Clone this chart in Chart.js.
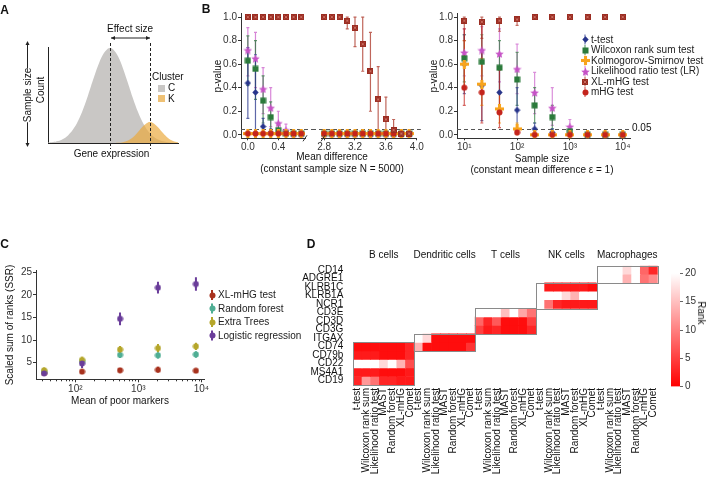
<!DOCTYPE html>
<html>
<head>
<meta charset="utf-8">
<script src="https://cdn.jsdelivr.net/npm/chart.js@4.4.1/dist/chart.umd.min.js"></script>
<style>
  body { margin: 0; background: #fff; }
  #fig { position: relative; width: 709px; height: 477px; overflow: hidden;
         font-family: 'Liberation Sans', Arial, Helvetica, sans-serif; color: #111; }
  #fig canvas { position: absolute; }
  .t { position: absolute; font-size: 10px; line-height: 1; white-space: nowrap; }
</style>
</head>
<body>
<div id="fig"></div>
<script>
// ---------- panel A: the two expression distributions ----------
const exprC = [0, 0.5, 1, 1.5, 2, 2.5, 3, 3.5, 4, 4.5, 5, 5.5, 6, 6.2, 6.5, 7, 7.5, 8, 8.5, 9, 9.5, 10, 10.5, 11, 11.5, 12, 12.5, 13];
const countC = [0.004, 0.010, 0.021, 0.043, 0.080, 0.141, 0.231, 0.353, 0.501, 0.662, 0.814, 0.932, 0.994, 1.000, 0.987, 0.913, 0.785, 0.629, 0.469, 0.326, 0.211, 0.127, 0.071, 0.037, 0.018, 0.008, 0.003, 0.001];
const exprK = [6.5, 7, 7.5, 8, 8.5, 9, 9.5, 10, 10.2, 10.5, 11, 11.5, 12, 12.5, 13];
const countK = [0.000, 0.002, 0.009, 0.026, 0.061, 0.116, 0.177, 0.216, 0.220, 0.211, 0.165, 0.104, 0.052, 0.021, 0.007];

// ---------- panel B: p-value vs mean difference (N = 5000) ----------
const meanDiff = [0, 0.1, 0.2, 0.3, 0.4, 0.5, 0.6, 0.7, 2.8, 2.9, 3.0, 3.1, 3.2, 3.3, 3.4, 3.5, 3.6, 3.7, 3.8, 3.9];
const mdTtest   = [0.44, 0.36, 0.07, 0.02, 0.01, 0.01, 0.01, 0.01, 0.01, 0.01, 0.01, 0.01, 0.01, 0.01, 0.01, 0.01, 0.01, 0.01, 0.01, 0.01];
const mdTtestLo = [0.14, 0.00, 0.02, 0.00];
const mdTtestHi = [0.74, 0.68, 0.14, 0.05];
const mdWilcox   = [0.63, 0.56, 0.29, 0.15, 0.04, 0.01, 0.01, 0.01, 0.01, 0.01, 0.01, 0.01, 0.01, 0.01, 0.01, 0.01, 0.01, 0.01, 0.01, 0.01];
const mdWilcoxLo = [0.42, 0.30, 0.10, 0.04, 0.00];
const mdWilcoxHi = [0.84, 0.80, 0.50, 0.28, 0.10];
const mdKS = [0.01, 0.01, 0.01, 0.01, 0.01, 0.01, 0.01, 0.01, 0.01, 0.01, 0.01, 0.01, 0.01, 0.01, 0.01, 0.01, 0.01, 0.01, 0.01, 0.01];
const mdLR   = [0.72, 0.65, 0.39, 0.23, 0.10, 0.04, 0.01, 0.01, 0.01, 0.01, 0.01, 0.01, 0.01, 0.01, 0.01, 0.01, 0.01, 0.01, 0.01, 0.01];
const mdLRLo = [0.50, 0.40, 0.18, 0.07, 0.02, 0.00];
const mdLRHi = [0.91, 0.87, 0.57, 0.40, 0.20, 0.09];
const mdXL   = [1, 1, 1, 1, 1, 1, 1, 1, 1, 1, 1, 0.97, 0.91, 0.77, 0.54, 0.30, 0.13, 0.04, 0.01, 0.01];
const mdXLLo = [null, null, null, null, null, null, null, null, null, null, null, 0.90, 0.75, 0.54, 0.20, 0.00, 0.00, 0.00];
const mdXLHi = [null, null, null, null, null, null, null, null, null, null, null, 1.00, 1.00, 1.00, 0.87, 0.58, 0.32, 0.13];
const mdMHG = [0.01, 0.01, 0.01, 0.01, 0.01, 0.01, 0.01, 0.01, 0.01, 0.01, 0.01, 0.01, 0.01, 0.01, 0.01, 0.01, 0.01, 0.01, 0.01, 0.01];

// ---------- panel B: p-value vs sample size (mean difference 1) ----------
const sampleSize = [10, 21.5, 46.4, 100, 215, 464, 1000, 2154, 4642, 10000];
const ssTtest   = [0.60, 0.42, 0.36, 0.21, 0.05, 0.02, 0.00, 0.00, 0.00, 0.00];
const ssTtestLo = [0.35, 0.12, 0.18, 0.05, 0.00, 0.00];
const ssTtestHi = [0.85, 0.72, 0.56, 0.40, 0.10, 0.05];
const ssWilcox   = [0.65, 0.62, 0.57, 0.47, 0.25, 0.15, 0.03, 0.00, 0.00, 0.00];
const ssWilcoxLo = [0.45, 0.40, 0.35, 0.25, 0.10, 0.05, 0.00];
const ssWilcoxHi = [0.85, 0.85, 0.80, 0.70, 0.40, 0.25, 0.07];
const ssKS   = [0.60, 0.43, 0.22, 0.05, 0.00, 0.00, 0.00, 0.00, 0.00, 0.00];
const ssKSLo = [0.40, 0.25, 0.10, 0.00];
const ssKSHi = [0.80, 0.65, 0.35, 0.10];
const ssLR   = [0.70, 0.72, 0.69, 0.56, 0.36, 0.23, 0.07, 0.00, 0.00, 0.00];
const ssLRLo = [0.50, 0.50, 0.45, 0.35, 0.18, 0.08, 0.03];
const ssLRHi = [0.90, 0.92, 0.90, 0.77, 0.53, 0.40, 0.13];
const ssXL   = [0.97, 0.96, 0.97, 0.98, 1.00, 1.00, 1.00, 1.00, 1.00, 1.00];
const ssXLLo = [0.80, 0.82, 0.88, 0.93];
const ssXLHi = [1.00, 1.00, 1.00, 1.00];
const ssMHG   = [0.40, 0.36, 0.19, 0.02, 0.00, 0.00, 0.00, 0.00, 0.00, 0.00];
const ssMHGLo = [0.25, 0.10, 0.06, 0.00];
const ssMHGHi = [0.90, 0.95, 0.55, 0.05];
const pValueTicks = [0, 0.2, 0.4, 0.6, 0.8, 1.0];
const pCutoff = 0.05;

// ---------- panel C: scaled sum of ranks ----------
const poorMean = [32, 128, 512, 2048, 8192];
const ssrXL    = [2.7, 3.0, 3.3, 3.4, 3.2];
const ssrXLErr = [0.4, 0.4, 0.5, 0.6, 0.4];
const ssrRF    = [3.0, 5.3, 6.7, 6.6, 6.8];
const ssrRFErr = [0.5, 0.6, 0.7, 0.7, 0.7];
const ssrET    = [3.3, 5.6, 7.9, 8.2, 8.6];
const ssrETErr = [0.6, 0.6, 0.8, 0.9, 0.8];
const ssrLR    = [2.6, 4.8, 14.7, 21.6, 22.4];
const ssrLRErr = [0.4, 1.0, 1.4, 1.3, 1.5];
const ssrTicks = [5, 10, 15, 20, 25];

// ---------- panel D: rank heatmap ----------
const methods = ['t-test', 'Wilcoxon rank sum', 'Likelihood ratio test', 'MAST', 'Random forest', 'XL-mHG', 'Comet'];
const cellTypes = ['B cells', 'Dendritic cells', 'T cells', 'NK cells', 'Macrophages'];
const genes = ['CD14', 'ADGRE1', 'KLRB1C', 'KLRB1A', 'NCR1', 'CD3E', 'CD3D', 'CD3G', 'ITGAX', 'CD74', 'CD79b', 'CD22', 'MS4A1', 'CD19'];
const bCellGenes = ['CD74', 'CD79b', 'CD22', 'MS4A1', 'CD19'];
const bCellRanks = [[1, 1, 1, 1, 1, 1, 3], [2, 2, 2, 1, 1, 1, 3], [20, 20, 20, 17, 20, 14, 6], [2, 2, 2, 1, 1, 1, 2], [3, 12, 9, 3, 3, 2, 2]];
const dcGenes = ['ITGAX', 'CD74'];
const dcRanks = [[20, 17, 1, 1, 1, 1, 1], [14, 1, 1, 1, 1, 1, 4]];
const tCellGenes = ['CD3E', 'CD3D', 'CD3G'];
const tCellRanks = [[20, 20, 20, 15, 20, 13, 9], [8, 3, 7, 1, 1, 1, 5], [5, 2, 3, 1, 1, 1, 3]];
const nkGenes = ['KLRB1C', 'KLRB1A', 'NCR1'];
const nkRanks = [[20, 2, 2, 2, 2, 2, 1], [20, 20, 20, 17, 14, 20, 20], [20, 9, 3, 2, 2, 2, 2]];
const macGenes = ['CD14', 'ADGRE1'];
const macRanks = [[20, 20, 20, 17, 20, 8, 3], [20, 20, 20, 14, 20, 9, 11]];
const rankTicks = [0, 5, 10, 15, 20];

// ---------- setup ----------
Chart.defaults.font.family = "'Liberation Sans', Arial, Helvetica, sans-serif";
Chart.defaults.font.size = 10;
Chart.defaults.color = '#333';
Chart.defaults.animation = false;
Chart.defaults.responsive = false;
Chart.defaults.plugins.legend.display = false;
Chart.defaults.plugins.tooltip.enabled = false;

const fig = document.getElementById('fig');
const axisColor = '#333';

function addCanvas(left, top, w, h) {
    const c = document.createElement('canvas');
    c.width = w; c.height = h;
    c.style.left = left + 'px'; c.style.top = top + 'px';
    c.style.width = w + 'px'; c.style.height = h + 'px';
    fig.appendChild(c);
    return c;
}

// text centred on (x, y) unless align is 'left'
function addText(str, x, y, opts = {}) {
    const d = document.createElement('div');
    d.className = 't';
    d.textContent = str;
    d.style.left = x + 'px';
    d.style.top = y + 'px';
    if (opts.size) d.style.fontSize = opts.size + 'px';
    if (opts.bold) d.style.fontWeight = 'bold';
    if (opts.bg) { d.style.background = opts.bg; d.style.padding = '2px 0'; }
    const tx = opts.align === 'left' ? '0' : '-50%';
    d.style.transform = `translate(${tx},-50%)` + (opts.rot ? ` rotate(${opts.rot}deg)` : '');
    fig.appendChild(d);
    return d;
}

function pts(xs, ys) {
    return xs.map((x, i) => ({ x: x, y: ys[i] }));
}

function makeMarker(shape, fill, size, accent) {
    const c = document.createElement('canvas');
    c.width = c.height = size;
    const g = c.getContext('2d');
    const h = size / 2;
    g.fillStyle = fill;
    g.beginPath();
    if (shape === 'circle') {
        g.arc(h, h, h - 0.5, 0, Math.PI * 2); g.fill();
    } else if (shape === 'diamond') {
        g.moveTo(h, 0.3); g.lineTo(size - 0.3, h); g.lineTo(h, size - 0.3); g.lineTo(0.3, h);
        g.closePath(); g.fill();
    } else if (shape === 'square') {
        g.fillRect(0.5, 0.5, size - 1, size - 1);
    } else if (shape === 'plus') {
        const w = size * 0.34;
        g.fillRect(h - w / 2, 0, w, size); g.fillRect(0, h - w / 2, size, w);
    } else if (shape === 'star') {
        for (let i = 0; i < 10; i++) {
            const r = i % 2 ? h * 0.45 : h;
            const a = -Math.PI / 2 + i * Math.PI / 5;
            g.lineTo(h + r * Math.cos(a), h + 0.6 + r * Math.sin(a));
        }
        g.closePath(); g.fill();
    } else if (shape === 'boxx') {
        g.fillRect(0, 0, size, size);
        g.strokeStyle = accent; g.lineWidth = 1;
        g.beginPath();
        g.moveTo(1.5, 1.5); g.lineTo(size - 1.5, size - 1.5);
        g.moveTo(size - 1.5, 1.5); g.lineTo(1.5, size - 1.5);
        g.stroke();
    }
    return c;
}

const sup = { 1: '\u00b9', 2: '\u00b2', 3: '\u00b3', 4: '\u2074' };
const logLabel = v => '10' + sup[Math.round(Math.log10(v))];

// vertical error bars from dataset.errLo / errHi
const errorBars = {
    id: 'errorBars',
    beforeDatasetsDraw(chart) {
        const { ctx, chartArea: a, scales: { x, y } } = chart;
        ctx.save();
        ctx.beginPath();
        ctx.rect(a.left - 2, a.top - 8, a.right - a.left + 4, a.bottom - a.top + 16);
        ctx.clip();
        chart.data.datasets.slice().reverse().forEach(ds => {
            if (!ds.errLo) return;
            ctx.strokeStyle = ds.errColor;
            ctx.lineWidth = ds.errWidth || 1.2;
            ds.data.forEach((p, i) => {
                const lo = ds.errLo[i], hi = ds.errHi[i];
                if (lo == null || hi == null) return;
                const px = x.getPixelForValue(p.x);
                if (px < a.left - 2 || px > a.right + 2) return;
                const y0 = y.getPixelForValue(lo), y1 = y.getPixelForValue(hi);
                const c = ds.errCap || 0;
                ctx.beginPath();
                ctx.moveTo(px, y0); ctx.lineTo(px, y1);
                if (c) {
                    ctx.moveTo(px - c, y0); ctx.lineTo(px + c, y0);
                    ctx.moveTo(px - c, y1); ctx.lineTo(px + c, y1);
                }
                ctx.stroke();
            });
        });
        ctx.restore();
    }
};

function drawLegend(chart, order, x, y0, step) {
    const ctx = chart.ctx;
    ctx.save();
    ctx.font = "10px 'Liberation Sans', Arial, sans-serif";
    ctx.textBaseline = 'middle';
    order.forEach((name, i) => {
        const ds = chart.data.datasets.find(d => d.label === name);
        const y = y0 + i * step;
        ctx.strokeStyle = ds.errColor;
        ctx.lineWidth = ds.errWidth || 1.2;
        ctx.beginPath(); ctx.moveTo(x, y - 5); ctx.lineTo(x, y + 5); ctx.stroke();
        const m = ds.pointStyle;
        ctx.drawImage(m, Math.round(x - m.width / 2), Math.round(y - m.height / 2));
        ctx.fillStyle = '#222';
        ctx.fillText(name, x + 6, y + 0.5);
    });
    ctx.restore();
}

// ---------- panel A ----------
const colC = '#c9c7c5', colK = 'rgba(234,168,58,0.68)';
const panelAExtras = {
    id: 'panelAExtras',
    afterDraw(chart) {
        const { ctx, chartArea: a, scales: { x } } = chart;
        const peakC = exprC[countC.indexOf(Math.max(...countC))];
        const peakK = exprK[countK.indexOf(Math.max(...countK))];
        const xc = x.getPixelForValue(peakC), xk = x.getPixelForValue(peakK);
        ctx.save();
        ctx.strokeStyle = '#222'; ctx.fillStyle = '#222'; ctx.lineWidth = 1;
        ctx.setLineDash([3, 2]);
        [xc, xk].forEach(px => {
            ctx.beginPath(); ctx.moveTo(px + 0.5, a.top - 4); ctx.lineTo(px + 0.5, a.bottom + 6); ctx.stroke();
        });
        ctx.setLineDash([]);
        const head = (px, py, dx, dy) => {
            ctx.beginPath();
            ctx.moveTo(px, py);
            ctx.lineTo(px - dx * 4 - dy * 2, py - dy * 4 - dx * 2);
            ctx.lineTo(px - dx * 4 + dy * 2, py - dy * 4 + dx * 2);
            ctx.closePath(); ctx.fill();
        };
        // effect size arrow
        const ay = 38;
        ctx.beginPath(); ctx.moveTo(xc + 1, ay); ctx.lineTo(xk, ay); ctx.stroke();
        head(xc + 1, ay, -1, 0); head(xk, ay, 1, 0);
        // sample size arrow
        const sx = 27.5;
        ctx.beginPath(); ctx.moveTo(sx, 42); ctx.lineTo(sx, 146); ctx.stroke();
        head(sx, 41, 0, -1); head(sx, 147, 0, 1);
        ctx.restore();
    }
};

new Chart(addCanvas(0, 0, 185, 165), {
    type: 'line',
    data: {
        datasets: [
            { label: 'K', data: pts(exprK, countK), backgroundColor: colK, fill: 'origin',
              borderColor: 'rgba(0,0,0,0)', pointRadius: 0, tension: 0.4 },
            { label: 'C', data: pts(exprC, countC), backgroundColor: colC, fill: 'origin',
              borderColor: 'rgba(0,0,0,0)', pointRadius: 0, tension: 0.4 }
        ]
    },
    options: {
        devicePixelRatio: 1,
        layout: { padding: { top: 47, right: 7 } },
        scales: {
            x: { type: 'linear', min: 0, max: 13, ticks: { display: false }, grid: { display: false },
                 border: { color: '#222' }, afterFit: s => { s.height = 22; } },
            y: { min: 0, max: 1.01, ticks: { display: false }, grid: { display: false },
                 border: { color: '#222' }, afterFit: s => { s.width = 48; } }
        }
    },
    plugins: [panelAExtras]
});

addText('Effect size', 130, 29);
addText('Gene expression', 111.5, 153.5);
addText('Count', 41, 90, { rot: -90 });
addText('Sample size', 27.5, 95, { rot: -90, bg: '#fff' });
addText('Cluster', 152, 77, { align: 'left' });
[['C', '#c9c7c5', 88], ['K', '#efc174', 98.5]].forEach(([lab, col, y]) => {
    const s = document.createElement('div');
    s.style.cssText = `position:absolute;left:158px;top:${y - 3.5}px;width:7px;height:7px;background:${col}`;
    fig.appendChild(s);
    addText(lab, 168, y, { align: 'left' });
});

// ---------- panel B ----------
const colT = '#27348b', colW = '#2b7a3b', colKS = '#f7a41d', colLR = '#c652c6', colXL = '#9b2d22', colMHG = '#c4241c';
const mk = {
    t: makeMarker('diamond', colT, 7),
    w: makeMarker('square', colW, 7),
    ks: makeMarker('plus', colKS, 9),
    lr: makeMarker('star', colLR, 9),
    xl: makeMarker('boxx', colXL, 6, '#c96a5e'),
    mhg: makeMarker('circle', colMHG, 7)
};

function bSeries(label, xs, ys, lo, hi, marker, errColor) {
    return { label, data: pts(xs, ys), errLo: lo, errHi: hi, errColor, errCap: 1.5,
             pointStyle: marker, pointRadius: 4, showLine: false };
}
function mdSets() {
    return [
        bSeries('XL-mHG test', meanDiff, mdXL, mdXLLo, mdXLHi, mk.xl, 'rgba(170,50,35,0.75)'),
        bSeries('mHG test', meanDiff, mdMHG, null, null, mk.mhg, 'rgba(196,36,28,0.75)'),
        bSeries('Kolmogorov-Smirnov test', meanDiff, mdKS, null, null, mk.ks, 'rgba(247,164,29,0.8)'),
        bSeries('t-test', meanDiff, mdTtest, mdTtestLo, mdTtestHi, mk.t, 'rgba(39,52,139,0.75)'),
        bSeries('Wilcoxon rank sum test', meanDiff, mdWilcox, mdWilcoxLo, mdWilcoxHi, mk.w, 'rgba(43,122,59,0.75)'),
        bSeries('Likelihood ratio test (LR)', meanDiff, mdLR, mdLRLo, mdLRHi, mk.lr, 'rgba(198,82,198,0.7)')
    ];
}
function ssSets() {
    return [
        bSeries('XL-mHG test', sampleSize, ssXL, ssXLLo, ssXLHi, mk.xl, 'rgba(170,50,35,0.7)'),
        bSeries('mHG test', sampleSize, ssMHG, ssMHGLo, ssMHGHi, mk.mhg, 'rgba(196,36,28,0.7)'),
        bSeries('Kolmogorov-Smirnov test', sampleSize, ssKS, ssKSLo, ssKSHi, mk.ks, 'rgba(247,164,29,0.8)'),
        bSeries('t-test', sampleSize, ssTtest, ssTtestLo, ssTtestHi, mk.t, 'rgba(39,52,139,0.7)'),
        bSeries('Wilcoxon rank sum test', sampleSize, ssWilcox, ssWilcoxLo, ssWilcoxHi, mk.w, 'rgba(43,122,59,0.7)'),
        bSeries('Likelihood ratio test (LR)', sampleSize, ssLR, ssLRLo, ssLRHi, mk.lr, 'rgba(198,82,198,0.65)')
    ];
}

function cutoffLine(extendLeft, extendRight) {
    return {
        id: 'cutoff',
        beforeDatasetsDraw(chart) {
            const { ctx, chartArea: a, scales: { y } } = chart;
            const py = Math.round(y.getPixelForValue(pCutoff)) + 0.5;
            ctx.save();
            ctx.strokeStyle = '#555'; ctx.lineWidth = 1; ctx.setLineDash([4, 3]);
            ctx.beginPath(); ctx.moveTo(a.left - extendLeft, py); ctx.lineTo(a.right + extendRight, py); ctx.stroke();
            ctx.restore();
        }
    };
}
function breakMark(side) {
    return {
        id: 'breakMark',
        afterDraw(chart) {
            const { ctx, chartArea: a } = chart;
            const bx = side === 'right' ? a.right : a.left + 2;
            ctx.save();
            ctx.strokeStyle = axisColor; ctx.lineWidth = 1;
            ctx.beginPath(); ctx.moveTo(bx - 2, a.bottom + 3); ctx.lineTo(bx + 2, a.bottom - 3); ctx.stroke();
            ctx.restore();
        }
    };
}

const pAxis = (width, show) => ({
    display: show, min: -0.03, max: 1.035,
    afterBuildTicks: s => { s.ticks = pValueTicks.map(v => ({ value: v })); },
    ticks: { callback: v => v.toFixed(1), padding: 1 },
    grid: { drawOnChartArea: false, tickLength: 3, color: axisColor },
    border: { color: axisColor },
    afterFit: s => { s.width = width; }
});
const xAxisBase = (extra) => Object.assign({
    ticks: { padding: 1, maxRotation: 0, autoSkip: false },
    grid: { drawOnChartArea: false, tickLength: 2, color: axisColor },
    border: { color: axisColor },
    afterFit: s => { s.height = 21.7; }
}, extra);

// left segment of the broken axis
new Chart(addCanvas(170, 0, 142, 160), {
    type: 'scatter',
    data: { datasets: mdSets() },
    options: {
        devicePixelRatio: 1,
        layout: { padding: { top: 13, right: 7 } },
        scales: {
            x: xAxisBase({ type: 'linear', min: -0.09, max: 0.75,
                afterBuildTicks: s => { s.ticks = [0, 0.4].map(v => ({ value: v })); },
                ticks: { padding: 1, maxRotation: 0, autoSkip: false, callback: v => v.toFixed(1) } }),
            y: pAxis(71, true)
        }
    },
    plugins: [errorBars, cutoffLine(0, 7), breakMark('right')]
});

// right segment of the broken axis
new Chart(addCanvas(312, 0, 115, 160), {
    type: 'scatter',
    data: { datasets: mdSets() },
    options: {
        devicePixelRatio: 1,
        layout: { padding: { top: 13, left: 9, right: 10.2 } },
        scales: {
            x: xAxisBase({ type: 'linear', min: 2.76, max: 4.0,
                afterBuildTicks: s => { s.ticks = [2.8, 3.2, 3.6, 4.0].map(v => ({ value: v })); },
                ticks: { padding: 1, maxRotation: 0, autoSkip: false, callback: v => v.toFixed(1) } }),
            y: pAxis(0, false)
        }
    },
    plugins: [errorBars, cutoffLine(9, 4), breakMark('left')]
});

const bLegendOrder = ['t-test', 'Wilcoxon rank sum test', 'Kolmogorov-Smirnov test', 'Likelihood ratio test (LR)', 'XL-mHG test', 'mHG test'];
new Chart(addCanvas(425, 0, 284, 160), {
    type: 'scatter',
    data: { datasets: ssSets() },
    options: {
        devicePixelRatio: 1,
        layout: { padding: { top: 13, right: 79 } },
        scales: {
            x: xAxisBase({ type: 'logarithmic', min: 7.28, max: 13740,
                afterBuildTicks: s => { s.ticks = [10, 100, 1000, 10000].map(v => ({ value: v })); },
                ticks: { padding: 1, maxRotation: 0, autoSkip: false, callback: v => logLabel(v) } }),
            y: pAxis(32, true)
        }
    },
    plugins: [errorBars, cutoffLine(0, 0),
        { id: 'bLegend', afterDraw: c => drawLegend(c, bLegendOrder, 160, 39.5, 10.5) }]
});

addText('p-value', 217.5, 76, { rot: -90 });
addText('p-value', 434, 76, { rot: -90 });
addText('Mean difference', 332, 157);
addText('(constant sample size N = 5000)', 332, 169);
addText('Sample size', 542, 158.5);
addText('(constant mean difference \u03b5 = 1)', 542, 170);
addText('0.05', 632, 128, { align: 'left' });

// ---------- panel C ----------
const colCX = '#a8321e', colRF = '#4fae94', colET = '#b5a62a', colLG = '#6a3d9a';
function cSeries(label, ys, err, color) {
    return { label, data: pts(poorMean, ys),
             errLo: ys.map((v, i) => v - err[i]), errHi: ys.map((v, i) => v + err[i]),
             errColor: color, errWidth: 2, errCap: 0,
             pointStyle: makeMarker('circle', color, 7), pointRadius: 4, showLine: false };
}
const cMinor = [30, 40, 50, 60, 70, 80, 90, 200, 300, 400, 500, 600, 700, 800, 900,
                2000, 3000, 4000, 5000, 6000, 7000, 8000, 9000];
const minorTicks = {
    id: 'minorTicks',
    afterDraw(chart) {
        const { ctx, chartArea: a, scales: { x } } = chart;
        ctx.save(); ctx.strokeStyle = axisColor; ctx.lineWidth = 1;
        cMinor.forEach(v => {
            const px = Math.round(x.getPixelForValue(v)) + 0.5;
            if (px < a.left || px > a.right) return;
            ctx.beginPath(); ctx.moveTo(px, a.bottom); ctx.lineTo(px, a.bottom + 2); ctx.stroke();
        });
        ctx.restore();
    }
};
const cLegendOrder = ['XL-mHG test', 'Random forest', 'Extra Trees', 'Logistic regression'];
new Chart(addCanvas(0, 230, 310, 175), {
    type: 'scatter',
    data: {
        datasets: [
            cSeries('Logistic regression', ssrLR, ssrLRErr, colLG),
            cSeries('Extra Trees', ssrET, ssrETErr, colET),
            cSeries('Random forest', ssrRF, ssrRFErr, colRF),
            cSeries('XL-mHG test', ssrXL, ssrXLErr, colCX)
        ]
    },
    options: {
        devicePixelRatio: 1,
        layout: { padding: { top: 40.5, right: 106 } },
        scales: {
            x: { type: 'logarithmic', min: 23.8, max: 11000,
                 afterBuildTicks: s => { s.ticks = [100, 1000, 10000].map(v => ({ value: v })); },
                 ticks: { padding: 1, maxRotation: 0, autoSkip: false, callback: v => logLabel(v) },
                 grid: { drawOnChartArea: false, tickLength: 3, color: axisColor },
                 border: { color: axisColor },
                 afterFit: s => { s.height = 25.7; } },
            y: { min: 1.3, max: 25.4,
                 afterBuildTicks: s => { s.ticks = ssrTicks.map(v => ({ value: v })); },
                 ticks: { padding: 1 },
                 grid: { drawOnChartArea: false, tickLength: 3, color: axisColor },
                 border: { color: axisColor },
                 afterFit: s => { s.width = 36; } }
        }
    },
    plugins: [errorBars, minorTicks,
        { id: 'cLegend', afterDraw: c => drawLegend(c, cLegendOrder, 212, 65, 13.5) }]
});
addText('Scaled sum of ranks (SSR)', 10, 325, { rot: -90 });
addText('Mean of poor markers', 120, 401);

// ---------- panel D ----------
const blocks = [
    { genes: bCellGenes, ranks: bCellRanks },
    { genes: dcGenes, ranks: dcRanks },
    { genes: tCellGenes, ranks: tCellRanks },
    { genes: nkGenes, ranks: nkRanks },
    { genes: macGenes, ranks: macRanks }
];
const colLabels = cellTypes.flatMap(() => methods);
const rankGrid = genes.map(() => colLabels.map(() => null));
blocks.forEach((b, bi) => b.genes.forEach((g, gi) => {
    const r = genes.indexOf(g);
    b.ranks[gi].forEach((v, mi) => { rankGrid[r][bi * methods.length + mi] = v; });
}));

function rankColor(v) {
    const t = Math.max(0, Math.min(1, v / 20));
    const g = Math.round(255 * t);
    return `rgb(255,${g},${g})`;
}

const heatSets = genes.map((g, r) => ({
    label: g,
    data: rankGrid[r].map(v => v == null ? null : [r - 0.5, r + 0.5]),
    backgroundColor: rankGrid[r].map(v => v == null ? 'rgba(0,0,0,0)' : rankColor(v)),
    borderWidth: 0, barPercentage: 1, categoryPercentage: 1, grouped: false
}));

const heatBlocks = {
    id: 'heatBlocks',
    afterDatasetsDraw(chart) {
        const { ctx, chartArea: a, scales: { x, y } } = chart;
        const cw = x.width / colLabels.length;
        ctx.save();
        ctx.strokeStyle = '#8a8a8a'; ctx.lineWidth = 1;
        ctx.fillStyle = '#111';
        ctx.font = "10px 'Liberation Sans', Arial, sans-serif";
        ctx.textAlign = 'center'; ctx.textBaseline = 'middle';
        blocks.forEach((b, bi) => {
            const c0 = bi * methods.length, c1 = c0 + methods.length - 1;
            const x0 = x.getPixelForValue(c0) - cw / 2, x1 = x.getPixelForValue(c1) + cw / 2;
            const rows = b.genes.map(g => genes.indexOf(g));
            const y0 = y.getPixelForValue(Math.min(...rows) - 0.5);
            const y1 = y.getPixelForValue(Math.max(...rows) + 0.5);
            ctx.strokeRect(Math.round(x0) + 0.5, Math.round(y0) + 0.5, Math.round(x1 - x0), Math.round(y1 - y0));
            ctx.fillText(cellTypes[bi], (x0 + x1) / 2, a.top - 10.5);
        });
        ctx.restore();
    }
};

new Chart(addCanvas(300, 245, 365, 232), {
    type: 'bar',
    data: { labels: colLabels, datasets: heatSets },
    options: {
        devicePixelRatio: 1,
        layout: { padding: { top: 20.7, right: 7.3 } },
        scales: {
            x: { type: 'category',
                 ticks: { autoSkip: false, minRotation: 90, maxRotation: 90, padding: -5, color: '#111' },
                 grid: { display: false }, border: { display: false },
                 afterFit: s => { s.height = 92; } },
            y: { type: 'linear', reverse: true, min: -0.5, max: genes.length - 0.5,
                 afterBuildTicks: s => { s.ticks = genes.map((g, i) => ({ value: i })); },
                 ticks: { autoSkip: false, padding: 2, color: '#111', callback: v => genes[v] },
                 grid: { display: false }, border: { display: false },
                 afterFit: s => { s.width = 53.3; } }
        }
    },
    plugins: [heatBlocks]
});

// colour bar
new Chart(addCanvas(660, 265, 49, 130), {
    type: 'bar',
    data: {
        labels: [''],
        datasets: [{
            data: [[rankTicks[0], rankTicks[rankTicks.length - 1]]],
            backgroundColor: ctx => {
                const a = ctx.chart.chartArea;
                if (!a || !isFinite(a.top) || !isFinite(a.bottom)) return rankColor(10);
                const g = ctx.chart.ctx.createLinearGradient(0, a.bottom, 0, a.top);
                g.addColorStop(0, rankColor(0));
                g.addColorStop(1, rankColor(20));
                return g;
            },
            borderWidth: 0, barPercentage: 1, categoryPercentage: 1
        }]
    },
    options: {
        devicePixelRatio: 1,
        layout: { padding: { left: 11, top: 8.3, bottom: 8.3 } },
        scales: {
            x: { display: false },
            y: { position: 'right', min: 0, max: 20,
                 afterBuildTicks: s => { s.ticks = rankTicks.map(v => ({ value: v })); },
                 ticks: { padding: 2 },
                 grid: { drawOnChartArea: false, tickLength: 3, color: '#666' },
                 border: { display: false },
                 afterFit: s => { s.width = 29; } }
        }
    }
});
addText('Rank', 701, 313, { rot: 90 });

// panel letters
addText('A', 4.5, 9.5, { size: 12, bold: true });
addText('B', 206, 8.5, { size: 12, bold: true });
addText('C', 4.5, 244, { size: 12, bold: true });
addText('D', 311, 244, { size: 12, bold: true });
</script>
</body>
</html>
